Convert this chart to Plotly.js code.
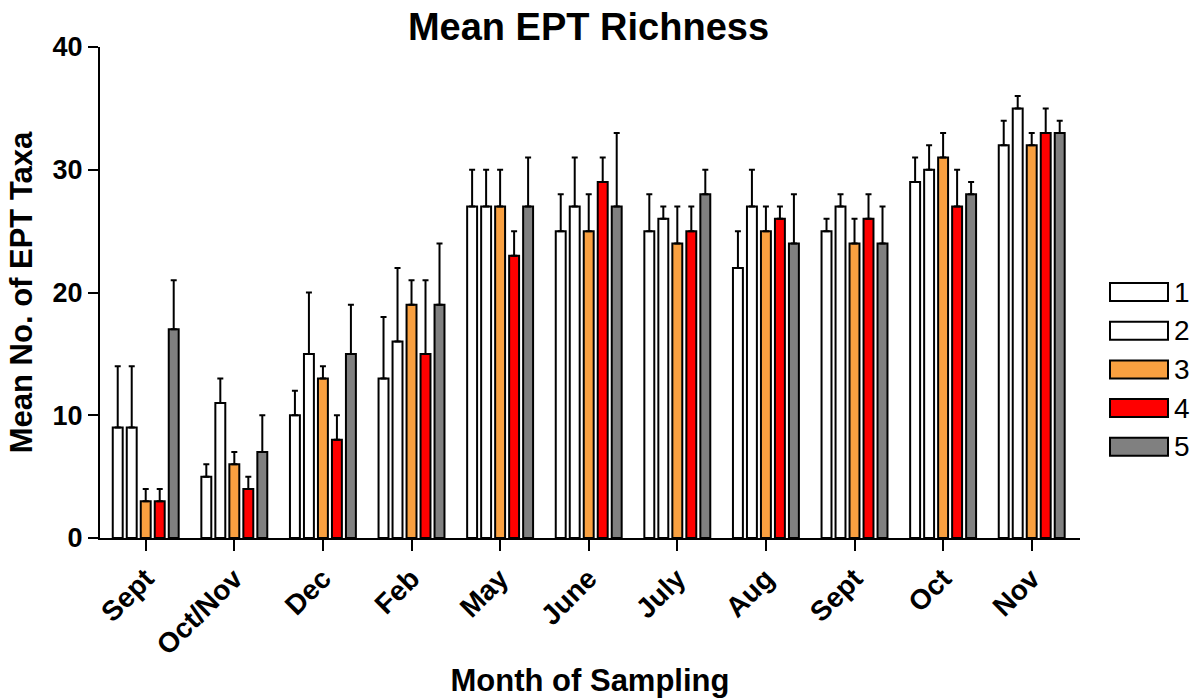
<!DOCTYPE html>
<html>
<head>
<meta charset="utf-8">
<script src="https://cdn.plot.ly/plotly-3.0.1.min.js"></script>
<style>html,body{margin:0;padding:0;background:#fff;}#chart{width:1201px;height:698px;}</style>
</head>
<body>
<div id="chart"></div>
<script>
const months = ["Sept","Oct/Nov","Dec","Feb","May","June","July","Aug","Sept","Oct","Nov"];
const seriesNames = ["1","2","3","4","5"];
const s1 = [9,5,10,13,27,25,25,22,25,29,32];
const s2 = [9,11,15,16,27,27,26,27,27,30,35];
const s3 = [3,6,13,19,27,25,24,25,24,31,32];
const s4 = [3,4,8,15,23,29,25,26,26,27,33];
const s5 = [17,7,15,19,27,27,28,24,24,28,33];
const e1 = [5,1,2,5,3,3,3,3,1,2,2];
const e2 = [5,2,5,6,3,4,1,3,1,2,1];
const e3 = [1,1,1,2,3,3,3,2,2,2,1];
const e4 = [1,1,2,6,2,2,2,1,2,3,2];
const e5 = [4,3,4,5,4,6,2,4,3,1,1];
const colors = ["#FFFFFF","#FFFFFF","#F9A040","#FF0000","#808080"];

const values = [s1,s2,s3,s4,s5];
const errors = [e1,e2,e3,e4,e5];
const xs = months.map((m,i)=>i);

const traces = values.map((v,k)=>({
  type:'bar', x: xs, y: v, name: seriesNames[k], showlegend:false,
  marker:{color:colors[k], line:{color:'#000', width:2}},
  error_y:{type:'data', array: errors[k], arrayminus: v.map(()=>0), symmetric:false,
           color:'#000', thickness:2, width:3}
}));

const F = "Liberation Sans, Arial, Helvetica, sans-serif";
const L = 100, R = 1080, T = 47, B = 538;
const PW = R - L, PH = B - T;
const shapes = [], annotations = [];
const legTop = 292, legStep = 38.7;
seriesNames.forEach((n,k)=>{
  const cy = legTop + k*legStep;
  shapes.push({type:'rect', xref:'paper', yref:'paper',
    x0:(1110-L)/PW, x1:(1168-L)/PW, y0:(B-(cy+9))/PH, y1:(B-(cy-9))/PH,
    fillcolor:colors[k], line:{color:'#000', width:2}});
  annotations.push({xref:'paper', yref:'paper', x:(1172-L)/PW, y:(B-cy)/PH,
    xanchor:'left', yanchor:'middle', text:n, showarrow:false,
    font:{family:F, size:28, color:'#000'}});
});

const layout = {
  width:1201, height:698,
  margin:{l:L, r:1201-R, t:T, b:698-B},
  paper_bgcolor:'#fff', plot_bgcolor:'#fff',
  barmode:'group', bargap:0.21, bargroupgap:0.29,
  title:{text:'<b>Mean EPT Richness</b>', x:0.49, xanchor:'center', y:0.962, yanchor:'middle',
         font:{family:F, size:38, color:'#000'}},
  xaxis:{range:[-0.516,10.545], tickmode:'array', tickvals:xs, ticktext:months.map(m=>'<b>'+m+'</b>'),
         tickangle:-45, ticks:'outside', ticklen:11, tickwidth:2, tickcolor:'#000',
         showline:true, linecolor:'#000', linewidth:2, showgrid:false, zeroline:false,
         tickfont:{family:F, size:28, color:'#000'},
         title:{text:'<b>Month of Sampling</b>', standoff:28, font:{family:F, size:31, color:'#000'}}},
  yaxis:{range:[0,40], tickvals:[0,10,20,30,40], ticktext:['<b>0</b>','<b>10</b>','<b>20</b>','<b>30</b>','<b>40</b>'],
         ticks:'outside', ticklen:10, tickwidth:2, tickcolor:'#000',
         showline:true, linecolor:'#000', linewidth:2, showgrid:false, zeroline:false,
         tickfont:{family:F, size:27, color:'#000'},
         title:{text:'<b>Mean No. of EPT Taxa</b>', standoff:11, font:{family:F, size:31, color:'#000'}}},
  shapes:shapes, annotations:annotations
};
Plotly.newPlot('chart', traces, layout, {displayModeBar:false, staticPlot:true});
</script>
</body>
</html>
